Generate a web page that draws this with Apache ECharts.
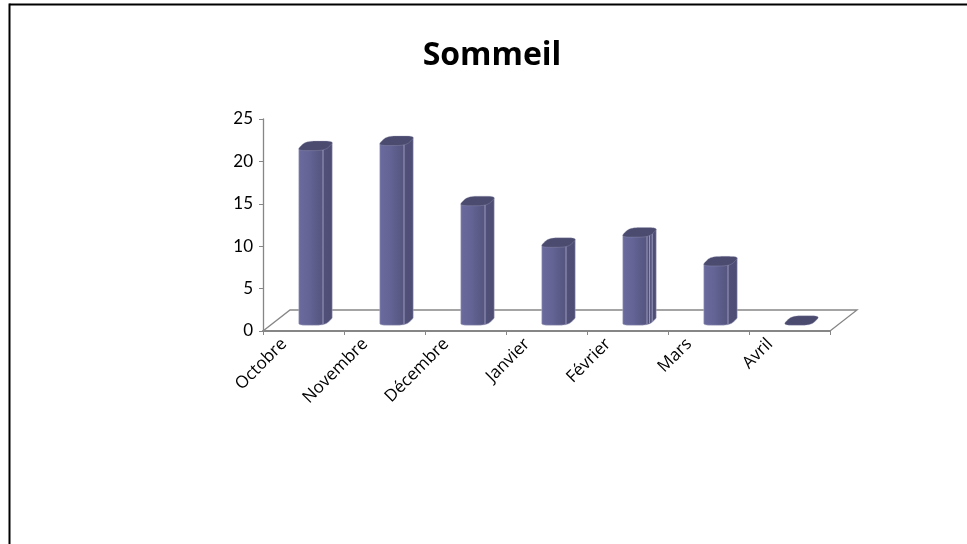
<!DOCTYPE html>
<html><head><meta charset="utf-8">
<style>html,body{margin:0;padding:0;background:#fff}#c{width:967px;height:544px}</style>
<script src="https://cdn.jsdelivr.net/npm/echarts@6/dist/echarts.min.js"></script>
</head><body><div id="c"></div>
<script>
var titleText = 'Sommeil';
var categories = ['Octobre','Novembre','Décembre','Janvier','Février','Mars','Avril'];
var values = [20.6, 21.2, 14.1, 9.2, 10.4, 7, 0];
var yTicks = [0,5,10,15,20,25];
var sideEdges = [1,1,1,1,3,1,0];

var chart = echarts.init(document.getElementById('c'), null, {renderer:'canvas'});
var AXIS = '#868686';
var DEPTH_UP = 10.5, SHIFT_X = 12, HALF_W = 14.5, RY = 4.8, SHEAR = 1.0, ROUND = 0.55;

function sp(v) { return (v < 0 ? -1 : 1) * Math.pow(Math.abs(v), ROUND); }

function cap(cx, cy) {
  var pts = [];
  for (var k = 0; k < 72; k++) {
    var t = k / 72 * Math.PI * 2;
    var dx = HALF_W * sp(Math.cos(t)), dy = RY * sp(Math.sin(t));
    pts.push([cx + dx - SHEAR * dy, cy + dy]);
  }
  return pts;
}

function lowerArc(pts) {
  var l = 0, r = 0;
  pts.forEach(function (p, k) {
    if (p[0] < pts[l][0]) l = k;
    if (p[0] > pts[r][0]) r = k;
  });
  var out = [], k = r;
  while (true) {
    out.push(pts[k]);
    if (k === l) break;
    k = (k + 1) % pts.length;
  }
  return out;
}

function renderBar(params, api) {
  var i = api.value(0), v = api.value(1);
  var top = api.coord([i, v]), base = api.coord([i, 0]);
  var cx = top[0] + SHIFT_X, ty = top[1] - DEPTH_UP, by = base[1] - DEPTH_UP;
  var children = [];
  var topCap = cap(cx, ty);
  if (v > 0.01) {
    var low = lowerArc(cap(cx, by));
    var right = low[0], left = low[low.length - 1];
    var pts = low.concat([[left[0], ty + (left[1] - by)], [right[0], ty + (right[1] - by)]]);
    children.push({type:'polygon', shape:{points:pts}, style:{
      fill:new echarts.graphic.LinearGradient(0,0,1,0,[
        {offset:0,color:'#6a6a9e'},{offset:0.3,color:'#646496'},
        {offset:0.7,color:'#55557f'},{offset:0.72,color:'#50507a'},{offset:1,color:'#4d4d74'}]),
      stroke:'#b4b4cc', lineWidth:0.5}});
    for (var e = 0; e < sideEdges[i]; e++) {
      var lx = cx + 7.5 + e * 2.6;
      children.push({type:'line', shape:{x1:lx,y1:ty+3.5-e,x2:lx,y2:by+3.5-e},
        style:{stroke:'#9c9cc0',lineWidth:1}});
    }
  }
  children.push({type:'polygon', shape:{points:topCap}, style:{fill:'#4b4b70', stroke:'#a9a9c4', lineWidth:0.3}});
  return {type:'group', children:children};
}

function renderFloor(params, api) {
  var c = params.coordSys;
  var x0 = c.x, x1 = c.x + c.width, y0 = c.y + c.height, yb = y0 - 21, dx = 27;
  return {type:'polyline', silent:true, shape:{points:[[x0,y0],[x0+dx,yb],[x1+dx,yb],[x1,y0]]},
    style:{fill:'none', stroke:AXIS, lineWidth:1.3}};
}

chart.setOption({
  animation:false,
  backgroundColor:'#fff',
  title:{text:titleText,left:487,top:35,textAlign:'center',
    textStyle:{fontFamily:'Open Sans',fontSize:32,fontWeight:'bold',color:'#000'}},
  graphic:[
    {type:'line',shape:{x1:9.5,y1:4.5,x2:967,y2:4.5},style:{stroke:'#000',lineWidth:2},silent:true},
    {type:'line',shape:{x1:9.5,y1:3.5,x2:9.5,y2:544},style:{stroke:'#000',lineWidth:2},silent:true}
  ],
  grid:{left:263,top:119,width:567,height:212},
  xAxis:{type:'category',data:categories,
    axisLine:{lineStyle:{color:AXIS,width:2}},
    axisTick:{show:true,alignWithLabel:false,length:4,lineStyle:{color:AXIS}},
    axisLabel:{rotate:45,interval:0,fontFamily:'Open Sans',fontSize:17,color:'#000',margin:3,verticalAlign:'bottom',padding:[0,19,0,0]},
    splitLine:{show:false}},
  yAxis:{type:'value',min:yTicks[0],max:yTicks[yTicks.length-1],interval:5,
    axisLine:{show:true,lineStyle:{color:AXIS,width:1.3}},
    axisTick:{show:true,length:4,lineStyle:{color:AXIS}},
    axisLabel:{fontFamily:'Lato',fontSize:17,color:'#000',margin:10},
    splitLine:{show:false}},
  series:[
    {type:'custom',coordinateSystem:'cartesian2d',renderItem:renderFloor,data:[[0,0]],z:1,silent:true,clip:false},
    {type:'custom',coordinateSystem:'cartesian2d',renderItem:renderBar,
     data:values.map(function(v,i){return [i,v];}),encode:{x:0,y:1},z:3,clip:false}
  ]
});
</script></body></html>
